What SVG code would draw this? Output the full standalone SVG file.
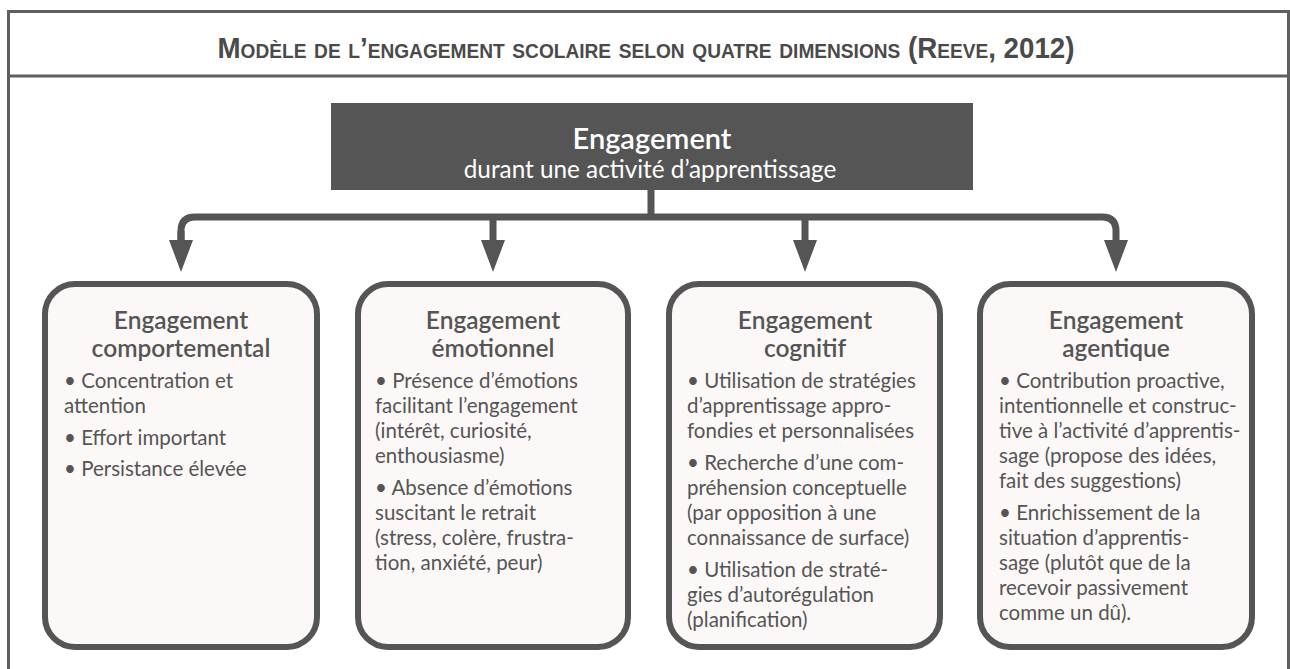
<svg xmlns="http://www.w3.org/2000/svg" width="1290" height="669" viewBox="0 0 1290 669">
<style>
.frame{fill:none;stroke:#5f5f5f;stroke-width:3}
.title{font-family:"Liberation Sans Narrow","Liberation Sans",Arial,sans-serif;font-weight:bold;font-size:29px;font-variant:small-caps;fill:#4a4a4a}
.box{fill:#fcf8f7;stroke:#555;stroke-width:6}
.head{font-family:Lato,"Noto Sans",sans-serif;font-weight:600;font-size:24.5px;fill:#555;text-anchor:middle}
.body{font-family:Lato,"Noto Sans",sans-serif;font-size:20.5px;fill:#555}
.conn{fill:none;stroke:#555;stroke-width:7}
.topt1{font-family:Lato,"Noto Sans",sans-serif;font-weight:600;font-size:29px;fill:#fff;text-anchor:middle}
.topt2{font-family:Lato,"Noto Sans",sans-serif;font-size:24.3px;fill:#fff;text-anchor:middle}
</style>
<defs>
<marker id="ah" viewBox="0 0 32 24" refX="0" refY="12" markerWidth="32" markerHeight="24" markerUnits="userSpaceOnUse" orient="auto">
<path d="M0,0 L32,12 L0,24 Z" fill="#555"/>
</marker>
</defs>
<rect width="1290" height="669" fill="#fff"/>
<g id="frame">
<path class="frame" d="M8.5 669 V11.5 H1288.5 V669"/>
<line class="frame" x1="8" y1="76" x2="1290" y2="76"/>
<text class="title" x="646" y="58" text-anchor="middle" textLength="857" lengthAdjust="spacingAndGlyphs">Modèle de l’engagement scolaire selon quatre dimensions (Reeve, 2012)</text>
</g>
<g id="connectors">
<path class="conn" d="M651 190 V217"/>
<path class="conn" marker-end="url(#ah)" d="M181 240 V231 Q181 217 195 217 H1102 Q1116 217 1116 231 V240"/>
<path class="conn" marker-end="url(#ah)" d="M493 217 V240"/>
<path class="conn" marker-end="url(#ah)" d="M805 217 V240"/>
<path class="conn" marker-end="url(#ah)" d="M181 231 V240"/>
</g>
<g id="top">
<rect x="331" y="103" width="642" height="87" fill="#555"/>
<text class="topt1" x="652" y="149">Engagement</text>
<text class="topt2" x="650" y="178">durant une activité d’apprentissage</text>
</g>
<g id="comportemental">
<rect class="box" x="45" y="284" width="272" height="363" rx="30"/>
<text class="head" x="181" y="329">Engagement</text>
<text class="head" x="181" y="357">comportemental</text>
<text class="body" x="64" y="388">• Concentration et</text>
<text class="body" x="64" y="413">attention</text>
<text class="body" x="64" y="445">• Effort important</text>
<text class="body" x="64" y="476">• Persistance élevée</text>
</g>
<g id="emotionnel">
<rect class="box" x="358" y="284" width="270" height="363" rx="30"/>
<text class="head" x="493" y="329">Engagement</text>
<text class="head" x="493" y="357">émotionnel</text>
<text class="body" x="375" y="388">• Présence d’émotions</text>
<text class="body" x="375" y="413">facilitant l’engagement</text>
<text class="body" x="375" y="438">(intérêt, curiosité,</text>
<text class="body" x="375" y="463">enthousiasme)</text>
<text class="body" x="375" y="495">• Absence d’émotions</text>
<text class="body" x="375" y="520">suscitant le retrait</text>
<text class="body" x="375" y="545">(stress, colère, frustra-</text>
<text class="body" x="375" y="570">tion, anxiété, peur)</text>
</g>
<g id="cognitif">
<rect class="box" x="669" y="284" width="271" height="363" rx="30"/>
<text class="head" x="805" y="329">Engagement</text>
<text class="head" x="805" y="357">cognitif</text>
<text class="body" x="687" y="388">• Utilisation de stratégies</text>
<text class="body" x="687" y="413">d’apprentissage appro-</text>
<text class="body" x="687" y="438">fondies et personnalisées</text>
<text class="body" x="687" y="470">• Recherche d’une com-</text>
<text class="body" x="687" y="495">préhension conceptuelle</text>
<text class="body" x="687" y="520">(par opposition à une</text>
<text class="body" x="687" y="545">connaissance de surface)</text>
<text class="body" x="687" y="577">• Utilisation de straté-</text>
<text class="body" x="687" y="602">gies d’autorégulation</text>
<text class="body" x="687" y="627">(planification)</text>
</g>
<g id="agentique">
<rect class="box" x="980" y="284" width="272" height="363" rx="30"/>
<text class="head" x="1116" y="329">Engagement</text>
<text class="head" x="1116" y="357">agentique</text>
<text class="body" x="999" y="388">• Contribution proactive,</text>
<text class="body" x="999" y="413">intentionnelle et construc-</text>
<text class="body" x="999" y="438">tive à l’activité d’apprentis-</text>
<text class="body" x="999" y="463">sage (propose des idées,</text>
<text class="body" x="999" y="488">fait des suggestions)</text>
<text class="body" x="999" y="520">• Enrichissement de la</text>
<text class="body" x="999" y="545">situation d’apprentis-</text>
<text class="body" x="999" y="570">sage (plutôt que de la</text>
<text class="body" x="999" y="595">recevoir passivement</text>
<text class="body" x="999" y="620">comme un dû).</text>
</g>
</svg>
